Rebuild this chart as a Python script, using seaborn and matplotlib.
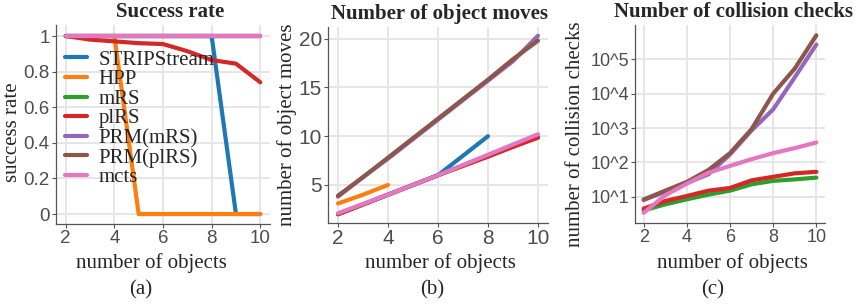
import numpy as np
import pandas as pd
import matplotlib
matplotlib.use('Agg')
import matplotlib.pyplot as plt
import seaborn as sns
from matplotlib.ticker import FixedLocator, FixedFormatter

sns.set_style('whitegrid')
plt.rcParams['font.family'] = ['Liberation Serif', 'DejaVu Serif']

methods = ['STRIPStream', 'HPP', 'mRS', 'plRS', 'PRM(mRS)', 'PRM(plRS)', 'mcts']
palette = dict(zip(methods, sns.color_palette('tab10', 7)))
objects = [2, 3, 4, 5, 6, 7, 8, 9, 10]

# success rate
success = {
    'STRIPStream': [1, 1, 1, 1, 1, 1, 1, 0, 0],
    'HPP':         [1, 1, 1, 0, 0, 0, 0, 0, 0],
    'mRS':         [1, 1, 1, 1, 1, 1, 1, 1, 1],
    'plRS':        [1, 0.98, 0.97, 0.96, 0.955, 0.915, 0.865, 0.845, 0.74],
    'PRM(mRS)':    [1, 1, 1, 1, 1, 1, 1, 1, 1],
    'PRM(plRS)':   [1, 1, 1, 1, 1, 1, 1, 1, 1],
    'mcts':        [1, 1, 1, 1, 1, 1, 1, 1, 1],
}

# number of object moves
moves = {
    'STRIPStream': [2, 3, 4, 5, 6, 8, 10, np.nan, np.nan],
    'HPP':         [3.1, 4.0, 5.0, np.nan, np.nan, np.nan, np.nan, np.nan, np.nan],
    'mRS':         [2, 3, 4, 5, 6, 7, 8, 9, 9.9],
    'plRS':        [2, 3, 4, 5, 6, 6.95, 7.9, 8.9, 9.85],
    'PRM(mRS)':    [3.8, 5.8, 7.7, 9.7, 11.7, 13.7, 15.7, 17.7, 20.3],
    'PRM(plRS)':   [3.9, 5.8, 7.8, 9.8, 11.8, 13.8, 15.8, 17.9, 19.8],
    'mcts':        [2.1, 3.05, 4.0, 5.0, 6.0, 7.05, 8.1, 9.15, 10.2],
}

# number of collision checks
checks = {
    'STRIPStream': [np.nan] * 9,
    'HPP':         [np.nan] * 9,
    'mRS':         [4.0, 6.0, 8.4, 11.5, 15, 23, 29, 32, 36],
    'plRS':        [4.5, 7.5, 10.5, 15, 18, 30, 38, 48, 53],
    'PRM(mRS)':    [8.0, 14, 25, 45, 170, 850, 3500, 30000, 270000],
    'PRM(plRS)':   [8.3, 15, 27, 60, 186, 930, 10000, 54000, 500000],
    'mcts':        [3.4, 11, 24, 50, 79, 124, 186, 260, 380],
}


def to_long(d):
    rows = []
    for m in methods:
        for x, v in zip(objects, d[m]):
            rows.append({'objects': x, 'value': v, 'method': m})
    return pd.DataFrame(rows)


W, H = 855, 305


def px_axes(left, top, right, bottom):
    return fig.add_axes([left / W, 1 - bottom / H, (right - left) / W, (bottom - top) / H])


fig = plt.figure(figsize=(8.55, 3.05), dpi=100)
ax_a = px_axes(56, 25, 270, 224)
ax_b = px_axes(328, 27, 548, 223)
ax_c = px_axes(635, 25, 825, 223)

# (axes, data, title, ylabel, title x, xlabel x, ylabel right edge, ylabel y, tick size)
panels = [
    (ax_a, success, 'Success rate', 'success rate', 170, 151, 22, 132, 13.5),
    (ax_b, moves, 'Number of object moves', 'number of object moves', 439, 440, 297, 125, 15),
    (ax_c, checks, 'Number of collision checks', 'number of collision checks', 733, 732, 585, 134, 13),
]


def tick_style(ax, size):
    for lab in ax.get_xticklabels() + ax.get_yticklabels():
        lab.set_fontfamily('Liberation Sans')
        lab.set_fontsize(size)
        lab.set_color('#4d4d4d')


for ax, d, title, ylab, ti_x, xl_x, yl_x, yl_y, ts in panels:
    sns.lineplot(data=to_long(d), x='objects', y='value', hue='method',
                 hue_order=methods, palette=palette, linewidth=3,
                 legend=(ax is ax_a), ax=ax)
    ax.set_xlabel('number of objects', fontsize=15)
    ax.set_ylabel(ylab, fontsize=15)
    # positions given in pixels, converted to axes fraction
    bb = ax.get_position()
    l, r = bb.x0 * W, bb.x1 * W
    t, b = (1 - bb.y1) * H, (1 - bb.y0) * H
    ax.set_title(title, fontsize=15, fontweight='bold', pad=6, x=(ti_x - l) / (r - l))
    ax.xaxis.set_label_coords((xl_x - l) / (r - l), (b - 253) / (b - t))
    ax.yaxis.set_label_coords((yl_x - l) / (r - l), (b - yl_y) / (b - t))
    ax.set_xticks([2, 4, 6, 8, 10])
    ax.set_xlim(1.6, 10.4)
    ax.grid(True, color='#e6e6e6', linewidth=1.4)
    for s in ['top', 'right']:
        ax.spines[s].set_visible(False)
    for s in ['left', 'bottom']:
        ax.spines[s].set_color('#555555')
        ax.spines[s].set_linewidth(0.9)
    ax.tick_params(axis='both', which='both', length=3, width=0.8, color='#555555',
                   pad=1.5, left=True, bottom=True)

ax_a.set_ylim(-0.056, 1.062)
ax_a.set_yticks([0, 0.2, 0.4, 0.6, 0.8, 1])
ax_a.set_yticklabels(['0', '0.2', '0.4', '0.6', '0.8', '1'])

ax_b.set_ylim(1.1, 21.2)
ax_b.set_yticks([5, 10, 15, 20])
ax_b.set_yticklabels(['5', '10', '15', '20'])

ax_c.set_yscale('log')
ax_c.set_ylim(10 ** 0.235, 10 ** 6.0)
ax_c.yaxis.set_major_locator(FixedLocator([1e1, 1e2, 1e3, 1e4, 1e5]))
ax_c.yaxis.set_major_formatter(FixedFormatter(['10^1', '10^2', '10^3', '10^4', '10^5']))
ax_c.yaxis.set_minor_locator(FixedLocator([]))
ax_c.grid(True, which='major', color='#e6e6e6', linewidth=1.4)

for p in panels:
    tick_style(p[0], p[-1])

ax_a.legend(loc='upper left', bbox_to_anchor=(0.042, 0.874), frameon=False,
            fontsize=15, handlelength=1.05, handletextpad=0.55,
            labelspacing=0.0, borderaxespad=0, borderpad=0)

for x, lab in [(141, '(a)'), (432, '(b)'), (713, '(c)')]:
    fig.text(x / W, 1 - 290 / H, lab, ha='center', va='center', fontsize=15)

fig.savefig('out.png', dpi=100)
